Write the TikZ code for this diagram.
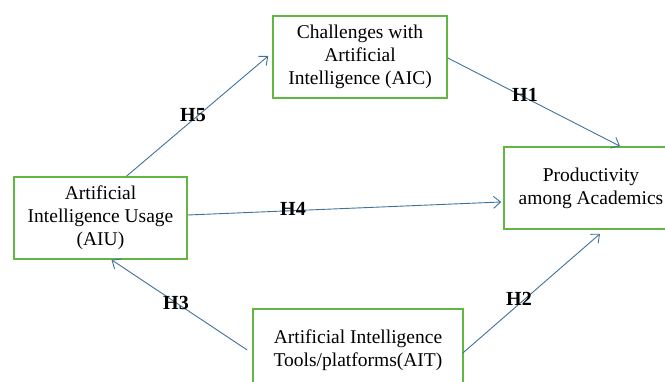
\documentclass[tikz,border=0pt]{standalone}
\usepackage{fontspec}
\setmainfont{Liberation Serif}
\usetikzlibrary{arrows.meta}
\definecolor{boxgreen}{RGB}{98,183,67}
\definecolor{linkblue}{RGB}{65,113,156}
\begin{document}
\begin{tikzpicture}[x=1pt,y=-1pt,
  box/.style={draw=boxgreen,line width=1.6pt,fill=white,align=center,
    inner sep=0pt,font=\fontsize{19.5}{23}\selectfont},
  link/.style={draw=linkblue,line width=0.9pt,-{Straight Barb[length=7pt,width=12pt,line width=0.9pt]}},
  hlab/.style={inner sep=0pt,font=\fontsize{20}{22}\selectfont\bfseries}]
\useasboundingbox (0,0) rectangle (665,382);
\clip (0,0) rectangle (665,382);
\node[box,minimum width=174pt,minimum height=82pt] (AIC) at (360,57)
  {Challenges with\\Artificial\\Intelligence (AIC)};
\node[box,minimum width=173pt,minimum height=82pt] (AIU) at (100.5,218)
  {Artificial\\Intelligence Usage\\(AIU)};
\node[box,minimum width=174pt,minimum height=82pt] (PAA) at (591,188)
  {Productivity\\among Academics};
\node[box,minimum width=210pt,minimum height=82pt] (AIT) at (358,350)
  {Artificial Intelligence\\Tools/platforms(AIT)};
\draw[link] ([xshift=26pt]AIU.north) -- ([xshift=-4pt,yshift=1pt]AIC.west);
\draw[link] ([yshift=-1pt]AIC.east) -- ([xshift=29pt]PAA.north);
\draw[link] ([yshift=3pt]AIU.east) -- ([xshift=-2pt,yshift=-14pt]PAA.west);
\draw[link] ([xshift=-5pt]AIT.west) -- ([xshift=11pt]AIU.south);
\draw[link] ([xshift=-1pt,yshift=-3pt]AIT.east) -- ([xshift=9pt,yshift=-4pt]PAA.south);
\node[hlab] (h1) at (525,95) {H1};
\node[hlab] (h2) at (519,299) {H2};
\node[hlab] (h3) at (176,303) {H3};
\node[hlab] (h4) at (293,209) {H4};
\node[hlab] (h5) at (193,115) {H5};
\end{tikzpicture}
\end{document}
